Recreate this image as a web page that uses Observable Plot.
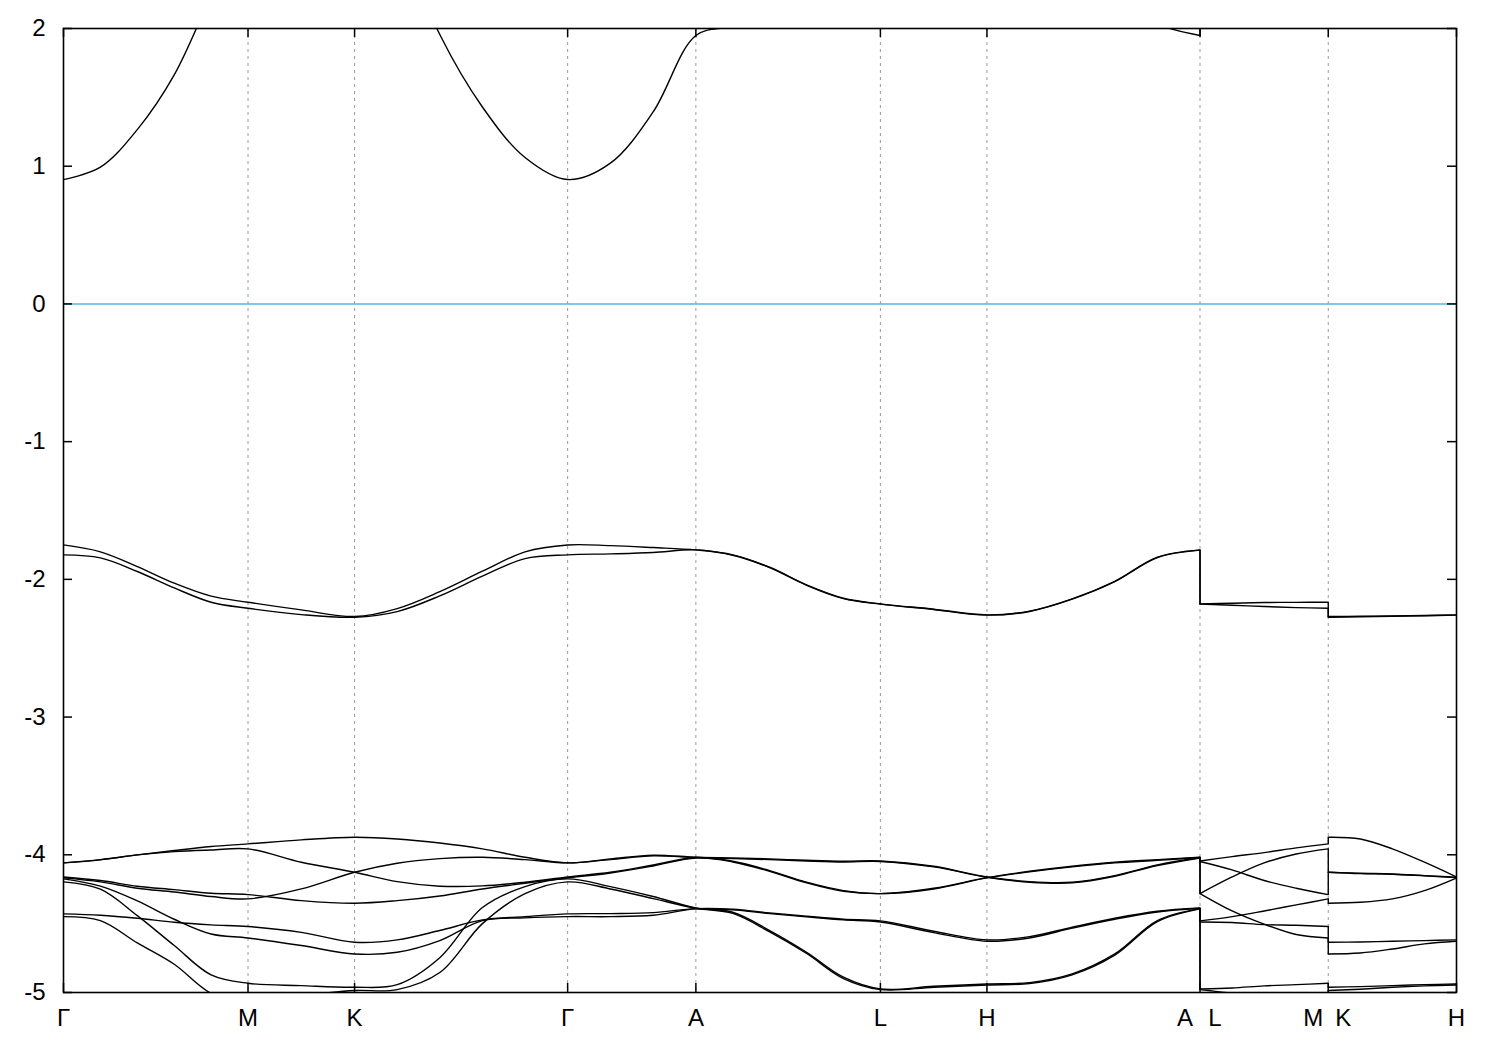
<!DOCTYPE html>
<html>
<head>
<meta charset="utf-8">
<script src="https://cdn.jsdelivr.net/npm/d3@7"></script>
<script src="https://cdn.jsdelivr.net/npm/@observablehq/plot@0.6"></script>
<style>
html, body { margin: 0; padding: 0; background: #fff; }
#chart svg { display: block; }
</style>
</head>
<body>
<div id="chart"></div>
<script>
// ---- high-symmetry points (path distance, units of |ΓM|) ----
const tickK = [0, 1, 1.5774, 2.7321, 3.4271, 4.4271, 5.0045, 6.1592, 6.8542, 7.5492];
const tickLabels = ["Γ", "M", "K", "Γ", "A", "L", "H", "A|L", "M|K", "H"];
const yTicks = [2, 1, 0, -1, -2, -3, -4, -5];

// ---- k sampling along the path (Γ-M-K-Γ-A-L-H-A | L-M | K-H) ----
const kPath = [0, 0.2, 0.4, 0.6, 0.8, 1, 1.2887, 1.5774, 1.8083, 2.0393, 2.2702, 2.5012, 2.7321,
  2.9638, 3.1954, 3.4271, 3.6271, 3.8271, 4.0271, 4.2271, 4.4271, 4.7158, 5.0045,
  5.2354, 5.4664, 5.6973, 5.9283, 6.1592,
  6.1592, 6.3330, 6.5067, 6.6805, 6.8542,
  6.8542, 7.0279, 7.2017, 7.3754, 7.5492];

// ---- band energies (eV) ----
const cb = [0.903, 0.993, 1.266, 1.663, 2.25, 2.9, 3.1, 3.2, 2.7, 1.956, 1.430, 1.063, 0.903,
  1.022, 1.394, 1.949, 2.02, 2.15, 2.3, 2.45, 2.55, 2.6, 2.6, 2.5, 2.35, 2.2, 2.03, 1.949,
  2.55, 2.7, 2.8, 2.85, 2.9,
  3.2, 3.0, 2.85, 2.7, 2.6];
const d1 = [-1.750, -1.800, -1.907, -2.028, -2.122, -2.166, -2.222, -2.270, -2.212, -2.089, -1.941, -1.800, -1.750,
  -1.755, -1.769, -1.786, -1.822, -1.912, -2.040, -2.137, -2.178, -2.217, -2.258, -2.231, -2.142, -2.014, -1.839, -1.786,
  -2.178, -2.173, -2.168, -2.167, -2.166,
  -2.270, -2.268, -2.265, -2.262, -2.258];
const d2 = [-1.822, -1.844, -1.943, -2.062, -2.166, -2.210, -2.256, -2.275, -2.234, -2.120, -1.977, -1.849, -1.822,
  -1.815, -1.805, -1.786, -1.825, -1.915, -2.043, -2.140, -2.180, -2.219, -2.260, -2.233, -2.144, -2.017, -1.842, -1.788,
  -2.180, -2.188, -2.197, -2.205, -2.210,
  -2.275, -2.272, -2.268, -2.264, -2.260];
const L1 = [-4.059, -4.035, -4.001, -3.969, -3.940, -3.921, -3.892, -3.873, -3.885, -3.914, -3.957, -4.018, -4.059,
  -4.030, -4.003, -4.018, -4.023, -4.030, -4.040, -4.047, -4.045, -4.083, -4.161,
  -4.195, -4.199, -4.151, -4.074, -4.020,
  -4.045, -4.013, -3.984, -3.950, -3.921,
  -3.873, -3.885, -3.957, -4.054, -4.161];
const L2 = [-4.059, -4.037, -4.001, -3.977, -3.965, -3.957, -4.054, -4.127, -4.195, -4.228, -4.226, -4.199, -4.161,
  -4.127, -4.074, -4.020, -4.047, -4.115, -4.199, -4.260, -4.282, -4.243, -4.166,
  -4.120, -4.083, -4.054, -4.035, -4.018,
  -4.049, -4.110, -4.187, -4.243, -4.289,
  -4.127, -4.134, -4.139, -4.151, -4.163];
const L3 = [-4.161, -4.187, -4.228, -4.253, -4.279, -4.289, -4.333, -4.352, -4.333, -4.299, -4.248, -4.207, -4.168,
  -4.132, -4.081, -4.023, -4.052, -4.120, -4.204, -4.265, -4.282, -4.248, -4.168,
  -4.124, -4.088, -4.059, -4.040, -4.020,
  -4.282, -4.161, -4.059, -3.994, -3.957,
  -4.127, -4.137, -4.141, -4.153, -4.166];
const L4 = [-4.168, -4.197, -4.243, -4.270, -4.303, -4.320, -4.248, -4.127, -4.061, -4.028, -4.018, -4.035, -4.059,
  -4.035, -4.008, -4.020, -4.028, -4.035, -4.045, -4.052, -4.049, -4.088, -4.163,
  -4.199, -4.204, -4.156, -4.078, -4.023,
  -4.282, -4.408, -4.504, -4.579, -4.604,
  -4.352, -4.345, -4.320, -4.260, -4.168];
const L5 = [-4.175, -4.228, -4.335, -4.468, -4.575, -4.604, -4.659, -4.720, -4.708, -4.623, -4.478, -4.458, -4.449,
  -4.449, -4.439, -4.393, -4.400, -4.427, -4.451, -4.473, -4.488, -4.565, -4.628,
  -4.604, -4.533, -4.468, -4.415, -4.388,
  -4.480, -4.449, -4.408, -4.364, -4.320,
  -4.635, -4.633, -4.628, -4.623, -4.618];
const L6 = [-4.429, -4.439, -4.461, -4.490, -4.509, -4.521, -4.563, -4.635, -4.618, -4.550, -4.473, -4.449, -4.429,
  -4.427, -4.420, -4.391, -4.395, -4.422, -4.446, -4.468, -4.480, -4.555, -4.618,
  -4.594, -4.526, -4.461, -4.410, -4.386,
  -4.488, -4.492, -4.507, -4.512, -4.521,
  -4.720, -4.713, -4.684, -4.647, -4.628];
const L7 = [-4.197, -4.250, -4.442, -4.659, -4.872, -4.933, -4.950, -4.962, -4.943, -4.747, -4.383, -4.231, -4.175,
  -4.231, -4.303, -4.386, -4.417, -4.550, -4.708, -4.889, -4.974, -4.955, -4.938,
  -4.928, -4.865, -4.720, -4.478, -4.391,
  -4.974, -4.967, -4.952, -4.943, -4.933,
  -4.962, -4.957, -4.950, -4.943, -4.938];
const L8 = [-4.449, -4.478, -4.640, -4.795, -5.006, -5.071, -5.022, -4.986, -4.979, -4.855, -4.500, -4.282, -4.197,
  -4.248, -4.318, -4.388, -4.425, -4.560, -4.717, -4.899, -4.979, -4.962, -4.945,
  -4.935, -4.872, -4.729, -4.485, -4.393,
  -4.979, -5.006, -5.047, -5.083, -5.071,
  -4.986, -4.976, -4.962, -4.952, -4.945];

const bands = {cb, d1, d2, L1, L2, L3, L4, L5, L6, L7, L8};

// ---- tidy rows; a new piece starts where the path jumps (repeated k) ----
const rows = [];
const breaks = [];
kPath.forEach((k, i) => { if (i > 0 && k === kPath[i - 1]) breaks.push(i); });
for (const [name, vals] of Object.entries(bands)) {
  let piece = 0;
  vals.forEach((E, i) => {
    if (breaks.includes(i)) piece++;
    rows.push({id: name + "-" + piece, k: kPath[i], E});
  });
}
// vertical connectors at the jumps: energies paired by rank on both sides
const jumps = [];
for (const i of breaks) {
  const before = Object.values(bands).map(v => v[i - 1]).sort((a, b) => b - a);
  const after = Object.values(bands).map(v => v[i]).sort((a, b) => b - a);
  before.forEach((e1, j) => jumps.push({k: kPath[i], e1, e2: after[j]}));
}

// ---- x tick labels (split "A|L" into two neighbouring labels) ----
const labelRows = [];
tickLabels.forEach((t, i) => {
  const parts = t.split("|");
  if (parts.length === 1) labelRows.push({k: tickK[i], text: t, side: "c"});
  else {
    labelRows.push({k: tickK[i], text: parts[0], side: "l"});
    labelRows.push({k: tickK[i], text: parts[1], side: "r"});
  }
});

const W = 1500, H = 1050, mL = 63, mR = 44, mT = 28, mB = 58;
const innerW = W - mL - mR, innerH = H - mT - mB;
const tick = 9;
const font = "'Liberation Sans', Arial, Helvetica, sans-serif";
const fs = 24;
const lw = 1.4;

const chart = Plot.plot({
  width: W, height: H,
  marginLeft: mL, marginRight: mR, marginTop: mT, marginBottom: mB,
  style: {fontFamily: font, background: "#fff", color: "#000"},
  x: {domain: [kPath[0], kPath[kPath.length - 1]], axis: null},
  y: {domain: [-5, 2], axis: null},
  marks: [
    Plot.ruleX(tickK.slice(1, -1), {stroke: "#9a9a9a", strokeWidth: 1, strokeDasharray: "3,4"}),
    Plot.ruleY([0], {stroke: "#56b4e9", strokeWidth: 1.5}),
    Plot.line(rows, {x: "k", y: "E", z: "id", curve: "catmull-rom", stroke: "#000", strokeWidth: lw, clip: true}),
    Plot.link(jumps, {x1: "k", x2: "k", y1: "e1", y2: "e2", stroke: "#000", strokeWidth: lw, clip: true}),
    Plot.frame({stroke: "#000", strokeWidth: 1.6}),
    Plot.tickY(yTicks, {y: d => d, insetRight: innerW - tick, stroke: "#000", strokeWidth: 1.5}),
    Plot.tickY(yTicks, {y: d => d, insetLeft: innerW - tick, stroke: "#000", strokeWidth: 1.5}),
    Plot.tickX(tickK, {x: d => d, insetTop: innerH - tick, stroke: "#000", strokeWidth: 1.5}),
    Plot.tickX(tickK, {x: d => d, insetBottom: innerH - tick, stroke: "#000", strokeWidth: 1.5}),
    Plot.text(yTicks, {y: d => d, frameAnchor: "left", dx: -18, textAnchor: "end", text: d => String(d), fontSize: fs, fill: "#000"}),
    Plot.text(labelRows.filter(d => d.side === "c"), {x: "k", text: "text", frameAnchor: "bottom", dy: 33, fontSize: fs, fill: "#000"}),
    Plot.text(labelRows.filter(d => d.side === "l"), {x: "k", text: "text", frameAnchor: "bottom", dy: 33, dx: -15, fontSize: fs, fill: "#000"}),
    Plot.text(labelRows.filter(d => d.side === "r"), {x: "k", text: "text", frameAnchor: "bottom", dy: 33, dx: 15, fontSize: fs, fill: "#000"})
  ]
});
document.getElementById("chart").appendChild(chart);
</script>
</body>
</html>
